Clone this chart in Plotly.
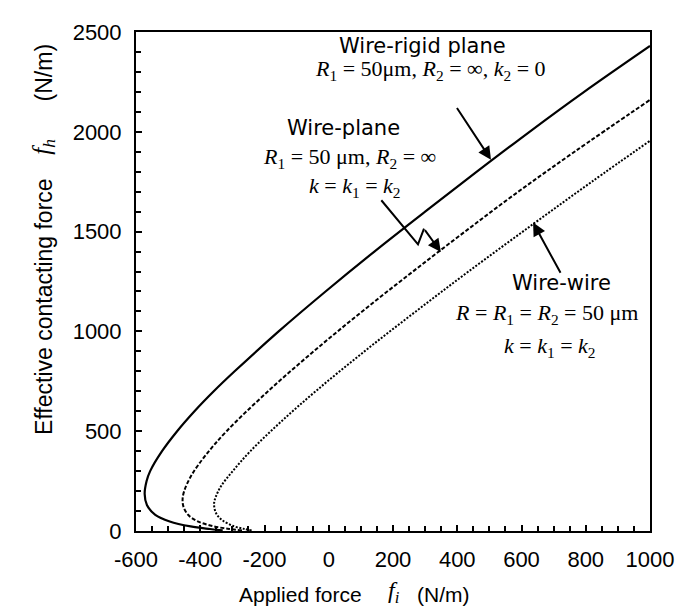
import plotly.graph_objects as go

# Applied force f_i (N/m) and effective contacting force f_h (N/m)
rigid_fi = [-330, -370, -430, -495, -540, -566, -573, -567, -556, -519, -472, -418, -358, -293, -156, -10, 142, 300, 461, 625, 795, 1000]
rigid_fh = [3, 10, 23, 48, 81, 130, 185, 250, 300, 400, 500, 600, 700, 800, 1000, 1200, 1400, 1600, 1800, 2000, 2200, 2430]

plane_fi = [-270, -310, -362, -410, -437, -452, -455, -450, -427, -383, -318, -189, -47, 104, 262, 424, 590, 765, 1000]
plane_fh = [3, 10, 25, 50, 80, 120, 158, 200, 280, 380, 500, 700, 900, 1100, 1300, 1500, 1700, 1900, 2160]

wire_fi = [-240, -262, -297, -333, -351, -357, -352, -335, -299, -244, -147, -35, 111, 271, 435, 639, 819, 1000]
wire_fh = [3, 10, 25, 56, 90, 135, 170, 225, 300, 400, 550, 708, 900, 1100, 1300, 1541, 1750, 1955]

x_ticks = [-600, -400, -200, 0, 200, 400, 600, 800, 1000]
x_tick_text = ["-600", "-400", "-200", "0", "200", "400", "600", "800", "1000"]
y_ticks = [0, 500, 1000, 1500, 2000, 2500]
y_tick_text = ["0", "500", "1000", "1500", "2000", "2500"]

fig = go.Figure()
fig.add_trace(go.Scatter(x=rigid_fi, y=rigid_fh, mode="lines",
                         line=dict(color="black", width=2.2, shape="spline", smoothing=1)))
fig.add_trace(go.Scatter(x=plane_fi, y=plane_fh, mode="lines",
                         line=dict(color="black", width=2, dash="4px,2px", shape="spline", smoothing=1)))
fig.add_trace(go.Scatter(x=wire_fi, y=wire_fh, mode="lines",
                         line=dict(color="black", width=2, dash="2px,1.6px", shape="spline", smoothing=1)))

sans = "Liberation Sans, Arial, sans-serif"
label_font = dict(family="DejaVu Sans, sans-serif", size=21, color="black")
math_font = dict(family="Liberation Serif, Times New Roman, serif", size=22, color="black")

ann = []
def txt(x, y, s, font):
    ann.append(dict(x=x, y=y, xref="x", yref="y", text=s, showarrow=False, font=font,
                    xanchor="center", yanchor="middle"))

txt(293, 2432, "Wire-rigid plane", label_font)
txt(317, 2308, "<i>R</i><sub>1</sub> = 50μm, <i>R</i><sub>2</sub> = ∞, <i>k</i><sub>2</sub> = 0", math_font)
txt(47, 2020, "Wire-plane", label_font)
txt(65, 1871, "<i>R</i><sub>1</sub> = 50 μm, <i>R</i><sub>2</sub> = ∞", math_font)
txt(83, 1723, "<i>k</i> = <i>k</i><sub>1</sub> = <i>k</i><sub>2</sub>", math_font)
txt(726, 1244, "Wire-wire", label_font)
txt(679, 1088, "<i>R</i> = <i>R</i><sub>1</sub> = <i>R</i><sub>2</sub> = 50 μm", math_font)
txt(690, 922, "<i>k</i> = <i>k</i><sub>1</sub> = <i>k</i><sub>2</sub>", math_font)

def arrow(x0, y0, x1, y1):
    ann.append(dict(x=x1, y=y1, ax=x0, ay=y0, xref="x", yref="y", axref="x", ayref="y",
                    text="", showarrow=True, arrowhead=2, arrowsize=1.3, arrowwidth=2,
                    arrowcolor="black"))

arrow(396, 2127, 505, 1860)
arrow(296, 1515, 349, 1398)
arrow(724, 1286, 636, 1545)

# axis titles (pieces placed separately, as in the original)
def title(x, y, s, font, angle=0, xs=0, ys=0):
    ann.append(dict(x=x, y=y, xref="paper", yref="paper", xshift=xs, yshift=ys, showarrow=False,
                    xanchor="center", yanchor="middle", textangle=angle, text=s, font=font))

t_font = dict(family=sans, size=21, color="black")
ty_font = dict(family=sans, size=23, color="black")
f_font = dict(family="Liberation Serif, serif", size=24, color="black")
fy_font = dict(family="Liberation Serif, serif", size=25, color="black")
title(0.32, 0, "Applied force", t_font, ys=-63)
title(0.502, 0, "<i>f<sub>i</sub></i>", f_font, ys=-61)
title(0.597, 0, "(N/m)", t_font, ys=-63)
title(0, 0.449, "Effective contacting force", ty_font, angle=-90, xs=-92)
title(0, 0.77, "<i>f<sub>h</sub></i>", fy_font, angle=-90, xs=-92)
title(0, 0.917, "(N/m)", ty_font, angle=-90, xs=-92)

fig.update_layout(
    width=694, height=606,
    margin=dict(l=128, r=52, t=18, b=83),
    paper_bgcolor="white", plot_bgcolor="white",
    showlegend=False,
    annotations=ann,
    shapes=[dict(type="path", xref="x", yref="y",
                 path="M 163.6,1657 L 277.8,1436 L 296.5,1515",
                 line=dict(color="black", width=2))],
    font=dict(family=sans, size=22, color="black"),
)
fig.update_xaxes(range=[-600, 1000], tickvals=x_ticks, ticktext=x_tick_text, ticks="inside", ticklen=6, tickwidth=1.5,
                 tickcolor="black", showline=True, linewidth=2, linecolor="black", mirror=True,
                 showgrid=False, zeroline=False, ticklabelstandoff=8,
                 minor=dict(dtick=50, tick0=0, ticks="inside", ticklen=5, tickwidth=1.5, tickcolor="black"),
                 tickfont=dict(family=sans, size=22, color="black"))
fig.update_yaxes(range=[0, 2500], tickvals=y_ticks, ticktext=y_tick_text, ticks="inside", ticklen=6, tickwidth=1.5,
                 tickcolor="black", showline=True, linewidth=2, linecolor="black", mirror=True,
                 showgrid=False, zeroline=False, ticklabelstandoff=8,
                 minor=dict(dtick=100, tick0=0, ticks="inside", ticklen=5, tickwidth=1.5, tickcolor="black"),
                 tickfont=dict(family=sans, size=22, color="black"))

fig.write_html("out.html")
